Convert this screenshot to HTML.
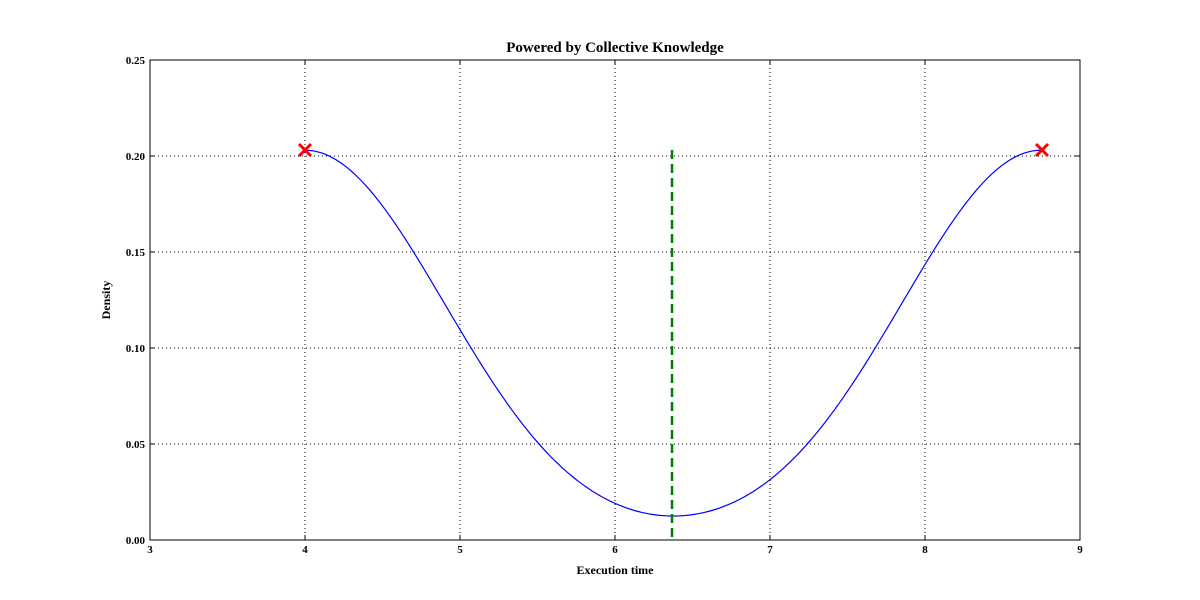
<!DOCTYPE html>
<html><head><meta charset="utf-8"><style>
html,body{margin:0;padding:0;background:#fff;}
svg{display:block;}
text{font-family:"Liberation Serif",serif;font-weight:bold;fill:#000;}
</style></head><body>
<svg id="s" width="1200" height="600" xmlns="http://www.w3.org/2000/svg">
<rect width="1200" height="600" fill="#fff"/>
<g stroke="#000" stroke-width="1" stroke-dasharray="1,3" fill="none">
<line x1="305" y1="60" x2="305" y2="540"/>
<line x1="460" y1="60" x2="460" y2="540"/>
<line x1="615" y1="60" x2="615" y2="540"/>
<line x1="770" y1="60" x2="770" y2="540"/>
<line x1="925" y1="60" x2="925" y2="540"/>
<line x1="150" y1="156" x2="1080" y2="156"/>
<line x1="150" y1="252" x2="1080" y2="252"/>
<line x1="150" y1="348" x2="1080" y2="348"/>
<line x1="150" y1="444" x2="1080" y2="444"/>
</g>
<path id="curve" d="" fill="none" stroke="#0000ff" stroke-width="1.2"/>
<line x1="672" y1="150" x2="672" y2="540" stroke="#007f00" stroke-width="2.5" stroke-dasharray="9,5"/>
<g stroke="#ff0000" stroke-width="3">
<line x1="299" y1="144" x2="311" y2="156"/><line x1="299" y1="156" x2="311" y2="144"/>
<line x1="1036" y1="144" x2="1048" y2="156"/><line x1="1036" y1="156" x2="1048" y2="144"/>
</g>
<rect x="150" y="60" width="930" height="480" fill="none" stroke="#000" stroke-width="1"/>
<g stroke="#000" stroke-width="1" id="ticks"></g>
<g font-size="11" text-anchor="middle">
<text x="150" y="553">3</text><text x="305" y="553">4</text><text x="460" y="553">5</text>
<text x="615" y="553">6</text><text x="770" y="553">7</text><text x="925" y="553">8</text><text x="1080" y="553">9</text>
</g>
<g font-size="11" text-anchor="end">
<text x="145" y="544">0.00</text><text x="145" y="448">0.05</text><text x="145" y="352">0.10</text>
<text x="145" y="256">0.15</text><text x="145" y="160">0.20</text><text x="145" y="64">0.25</text>
</g>
<text x="615" y="574" font-size="12" text-anchor="middle">Execution time</text>
<text x="110" y="300" font-size="12" text-anchor="middle" transform="rotate(-90 110 300)">Density</text>
<text x="615" y="52" font-size="15" text-anchor="middle">Powered by Collective Knowledge</text>
</svg>
<script>
(function(){
var h=0.9,a=4,b=8.75;
function g(x,m){return Math.exp(-(x-m)*(x-m)/(2*h*h));}
var peak=g(a,a)+g(a,b);
var d="";
for(var i=0;i<=400;i++){
 var x=a+(b-a)*i/400;
 var y=0.203*(g(x,a)+g(x,b))/peak;
 var px=150+(x-3)*155, py=540-y*1920;
 d+=(i?"L":"M")+px.toFixed(2)+","+py.toFixed(2);
}
document.getElementById("curve").setAttribute("d",d);
var t=document.getElementById("ticks"),s="";
[150,305,460,615,770,925,1080].forEach(function(x){
 s+='<line x1="'+x+'" y1="540" x2="'+x+'" y2="535"/><line x1="'+x+'" y1="60" x2="'+x+'" y2="65"/>';});
[60,156,252,348,444,540].forEach(function(y){
 s+='<line x1="150" y1="'+y+'" x2="155" y2="'+y+'"/><line x1="1080" y1="'+y+'" x2="1075" y2="'+y+'"/>';});
t.innerHTML=s;
})();
</script>
</body></html>
